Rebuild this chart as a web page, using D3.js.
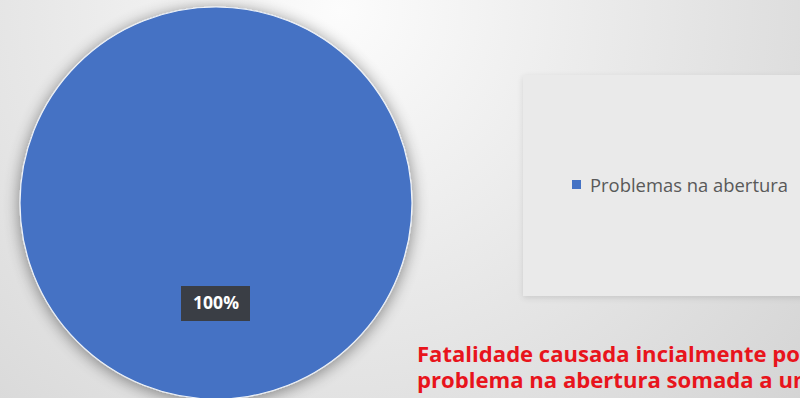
<!DOCTYPE html>
<html>
<head>
<meta charset="utf-8">
<script src="https://cdn.jsdelivr.net/npm/d3@7/dist/d3.min.js"></script>
<style>
  html, body { margin: 0; padding: 0; background: #e0e0e0; }
  svg { display: block; }
</style>
</head>
<body>
<svg id="chart" width="800" height="398"></svg>
<script>
// Causes of the fatality, share per category
const categories = ["Problemas na abertura"];
const values = [100];
const colors = ["#4472c4"];
const noteLines = [
  "Fatalidade causada incialmente por um",
  "problema na abertura somada a um erro"
];
// Visible prefix of each note line (the rest runs past the right edge)
const noteVisible = [
  "Fatalidade causada incialmente po",
  "problema na abertura somada a u"
];

const W = 800, H = 398;
const svg = d3.select("#chart");
const defs = svg.append("defs");

// Soft radial backdrop, brightest near the top middle
const bg = defs.append("radialGradient")
  .attr("id", "bg").attr("gradientUnits", "userSpaceOnUse")
  .attr("cx", 340).attr("cy", 10).attr("r", 640);
bg.append("stop").attr("offset", "0%").attr("stop-color", "#fcfcfc");
bg.append("stop").attr("offset", "40%").attr("stop-color", "#ebebeb");
bg.append("stop").attr("offset", "100%").attr("stop-color", "#d2d2d2");

svg.append("rect").attr("width", W).attr("height", H).attr("fill", "url(#bg)");

// Drop shadow factory
function shadow(id, blur, dy, alpha) {
  const f = defs.append("filter").attr("id", id)
    .attr("x", "-20%").attr("y", "-20%").attr("width", "140%").attr("height", "140%");
  f.append("feGaussianBlur").attr("in", "SourceAlpha").attr("stdDeviation", blur).attr("result", "b");
  f.append("feOffset").attr("in", "b").attr("dx", 0).attr("dy", dy).attr("result", "o");
  f.append("feComponentTransfer").attr("in", "o").attr("result", "s")
    .append("feFuncA").attr("type", "linear").attr("slope", alpha);
  const m = f.append("feMerge");
  m.append("feMergeNode").attr("in", "s");
  m.append("feMergeNode").attr("in", "SourceGraphic");
}
shadow("pieShadow", 8, 2, 0.45);
shadow("panelShadow", 3, 2, 0.12);

// Legend panel
svg.append("rect")
  .attr("x", 523).attr("y", 75).attr("width", 300).attr("height", 221)
  .attr("fill", "#eaeaea")
  .attr("filter", "url(#panelShadow)");

// Pie
const cx = 216, cy = 203, r = 196;
const pie = d3.pie().sort(null).value(d => d)(values);
const arc = d3.arc().innerRadius(0).outerRadius(r);
const total = d3.sum(values);

const g = svg.append("g").attr("transform", `translate(${cx},${cy})`);
g.selectAll("path.slice").data(pie).join("path")
  .attr("class", "slice")
  .attr("d", arc)
  .attr("fill", (d, i) => colors[i])
  .attr("stroke", "#eef2f8").attr("stroke-width", 1.2)
  .attr("filter", "url(#pieShadow)");

// Data labels in dark boxes
const fmt = d3.format(".0%");
const labelArc = d3.arc().innerRadius(0).outerRadius(r * 0.51);
g.selectAll("g.lbl").data(pie).join("g")
  .attr("class", "lbl")
  .each(function(d) {
    const sel = d3.select(this);
    // a full circle places the label straight down from the centre
    const c = (d.endAngle - d.startAngle) >= 2 * Math.PI - 1e-6 ? [0, 100] : labelArc.centroid(d);
    sel.append("rect")
      .attr("x", c[0] - 35).attr("y", c[1] - 17)
      .attr("width", 69).attr("height", 35)
      .attr("fill", "#3a3a3a").attr("opacity", 0.92);
    sel.append("text")
      .attr("x", c[0]).attr("y", c[1] + 6)
      .attr("text-anchor", "middle")
      .attr("font-family", "'Open Sans', 'Noto Sans', sans-serif")
      .attr("font-weight", "bold")
      .attr("font-size", 17)
      .attr("fill", "#ffffff")
      .attr("textLength", 46).attr("lengthAdjust", "spacingAndGlyphs")
      .text(fmt(d.data / total));
  });

// Legend
const leg = svg.append("g").selectAll("g").data(categories).join("g")
  .attr("transform", (d, i) => `translate(572,${180 + i * 24})`);
leg.append("rect").attr("width", 9).attr("height", 9).attr("fill", (d, i) => colors[i]);
leg.append("text")
  .attr("x", 18).attr("y", 12)
  .attr("font-family", "'Open Sans', 'Noto Sans', sans-serif")
  .attr("font-size", 18)
  .attr("fill", "#595959")
  .attr("textLength", 198).attr("lengthAdjust", "spacingAndGlyphs")
  .text(d => d);

// Red note beneath the legend
const noteWidths = [383, 376];
const note = svg.append("text")
  .attr("font-family", "'Open Sans', 'Noto Sans', sans-serif")
  .attr("font-weight", "bold")
  .attr("font-size", 21)
  .attr("fill", "#e8141c");
noteLines.forEach((line, i) => {
  const t = note.append("tspan").attr("x", 417).attr("y", 362 + i * 26);
  t.append("tspan")
    .attr("textLength", noteWidths[i]).attr("lengthAdjust", "spacingAndGlyphs")
    .text(noteVisible[i]);
  t.append("tspan").text(line.slice(noteVisible[i].length));
});
</script>
</body>
</html>
